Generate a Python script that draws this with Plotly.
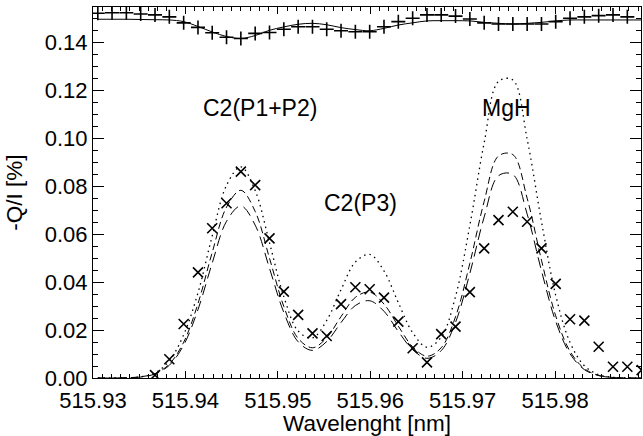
import plotly.graph_objects as go

# wavelength grid [nm]
wavelength = [515.93052, 515.93206, 515.93361, 515.93516, 515.93671, 515.93826, 515.93981,
              515.94136, 515.94290, 515.94445, 515.94600, 515.94755, 515.94910, 515.95065,
              515.95220, 515.95375, 515.95529, 515.95684, 515.95839, 515.95994, 515.96149,
              515.96304, 515.96459, 515.96614, 515.96768, 515.96923, 515.97078, 515.97233,
              515.97388, 515.97543, 515.97698, 515.97853, 515.98007, 515.98162, 515.98317,
              515.98472, 515.98627, 515.98782, 515.98937]

# observed -Q/I (x markers), starting at the 5th grid point
obs_q = [0.0012, 0.0078, 0.0225, 0.0440, 0.0624, 0.0728, 0.0860, 0.0804, 0.0582, 0.0360,
         0.0263, 0.0186, 0.0175, 0.0308, 0.0378, 0.0370, 0.0335, 0.0235, 0.0124, 0.0065,
         0.0183, 0.0214, 0.0358, 0.0540, 0.0658, 0.0693, 0.0651, 0.0540, 0.0392, 0.0245,
         0.0239, 0.0130, 0.0047, 0.0047, 0.0033]

# model curves
model_dotted = [0.0, 0.00002, 0.0001, 0.0005, 0.0021, 0.0072, 0.0180, 0.0355, 0.0592, 0.0803,
                0.0880, 0.0781, 0.0563, 0.0339, 0.0196, 0.0167, 0.0240, 0.0368, 0.0483, 0.0515,
                0.0446, 0.0314, 0.0189, 0.0128, 0.0170, 0.0340, 0.0636, 0.0980, 0.1236, 0.1242,
                0.0995, 0.0652, 0.0345, 0.0148, 0.0051, 0.0014, 0.0003, 0.0001, 0.0]
model_dash = [0.0, 0.0, 0.0001, 0.0005, 0.0018, 0.0058, 0.0149, 0.0310, 0.0523, 0.0712,
              0.0782, 0.0694, 0.0499, 0.0298, 0.0165, 0.0126, 0.0168, 0.0256, 0.0336, 0.0358,
              0.0308, 0.0216, 0.0130, 0.0091, 0.0126, 0.0255, 0.0478, 0.0736, 0.0925, 0.0931,
              0.0749, 0.0491, 0.0259, 0.0111, 0.0039, 0.0011, 0.0002, 0.0, 0.0]
model_longdash = [0.0, 0.0, 0.0001, 0.0004, 0.0017, 0.0053, 0.0137, 0.0285, 0.0479, 0.0653,
                  0.0717, 0.0637, 0.0457, 0.0273, 0.0151, 0.0115, 0.0152, 0.0231, 0.0302, 0.0322,
                  0.0278, 0.0194, 0.0118, 0.0082, 0.0114, 0.0232, 0.0436, 0.0671, 0.0843, 0.0848,
                  0.0683, 0.0447, 0.0236, 0.0101, 0.0035, 0.0010, 0.0002, 0.0, 0.0]

# upper (shifted) profile: + markers and solid fit
upper_obs = [0.1520, 0.1522, 0.1522, 0.1517, 0.1513, 0.1505, 0.1480, 0.1461, 0.1439, 0.1420,
             0.1415, 0.1436, 0.1440, 0.1453, 0.1464, 0.1464, 0.1453, 0.1447, 0.1443, 0.1443,
             0.1464, 0.1485, 0.1499, 0.1513, 0.1513, 0.1508, 0.1496, 0.1480, 0.1475, 0.1475,
             0.1475, 0.1475, 0.1485, 0.1499, 0.1505, 0.1510, 0.1513, 0.1505]
upper_fit = [0.1495, 0.1495, 0.1495, 0.1494, 0.1493, 0.1492, 0.1485, 0.1465, 0.1442, 0.1423,
             0.1415, 0.1427, 0.1449, 0.1463, 0.1474, 0.1478, 0.1472, 0.1460, 0.1452, 0.1447,
             0.1457, 0.1471, 0.1480, 0.1488, 0.1489, 0.1489, 0.1488, 0.1482, 0.1478, 0.1475,
             0.1478, 0.1482, 0.1488, 0.1492, 0.1492, 0.1492, 0.1492, 0.1492, 0.1492]

labels = ["C2(P1+P2)", "C2(P3)", "MgH"]
label_x = [515.94807, 515.95900, 515.97470]
label_y = [0.1125, 0.0729, 0.1125]

FONT = "Liberation Sans, Arial, Helvetica, sans-serif"
fig = go.Figure()

fig.add_trace(go.Scatter(x=wavelength, y=model_dotted, mode="lines",
                         line=dict(color="black", width=1.3, dash="1.5px,4px", shape="spline")))
fig.add_trace(go.Scatter(x=wavelength, y=model_dash, mode="lines",
                         line=dict(color="black", width=1, dash="7px,4px", shape="spline")))
fig.add_trace(go.Scatter(x=wavelength, y=model_longdash, mode="lines",
                         line=dict(color="black", width=1, dash="11px,6px", shape="spline")))
fig.add_trace(go.Scatter(x=wavelength[4:], y=obs_q, mode="markers",
                         marker=dict(symbol="x-thin", size=10, line=dict(color="black", width=1.6))))
fig.add_trace(go.Scatter(x=wavelength, y=upper_fit, mode="lines",
                         line=dict(color="black", width=1, shape="spline")))
fig.add_trace(go.Scatter(x=wavelength[:len(upper_obs)], y=upper_obs, mode="markers",
                         marker=dict(symbol="cross-thin", size=10, line=dict(color="black", width=1.6))))

for t, x, y in zip(labels, label_x, label_y):
    fig.add_annotation(x=x, y=y, text=t, showarrow=False, xanchor="center", yanchor="middle",
                       font=dict(family=FONT, size=23, color="black"))

fig.update_layout(
    width=643, height=436, showlegend=False,
    paper_bgcolor="white", plot_bgcolor="white",
    margin=dict(l=93, r=2, t=7, b=58),
    font=dict(family=FONT, size=22, color="black"),
)
fig.update_xaxes(range=[515.93, 515.9893], showgrid=False, zeroline=False, automargin=False,
                 showline=True, linecolor="black", linewidth=1, mirror="ticks",
                 ticks="inside", ticklen=7, tickcolor="black", dtick=0.01, tick0=515.93,
                 tickformat=".2f", ticklabelstandoff=3,
                 minor=dict(dtick=0.001, ticks="inside", ticklen=4, tickcolor="black"),
                 title=dict(text="Wavelenght [nm]", standoff=5, font=dict(size=22.5)))
fig.update_yaxes(range=[0, 0.1546], showgrid=False, zeroline=False, automargin=False,
                 showline=True, linecolor="black", linewidth=1, mirror="ticks",
                 ticks="inside", ticklen=11, tickcolor="black", dtick=0.02, tick0=0,
                 tickformat=".2f",
                 minor=dict(dtick=0.005, ticks="inside", ticklen=5, tickcolor="black"),
                 title=dict(text="-Q/I [%]", standoff=15, font=dict(size=22.5)))

fig.write_html("out.html", config={"displayModeBar": False},
               post_script="document.body.style.margin='0';document.body.style.overflow='hidden';")
